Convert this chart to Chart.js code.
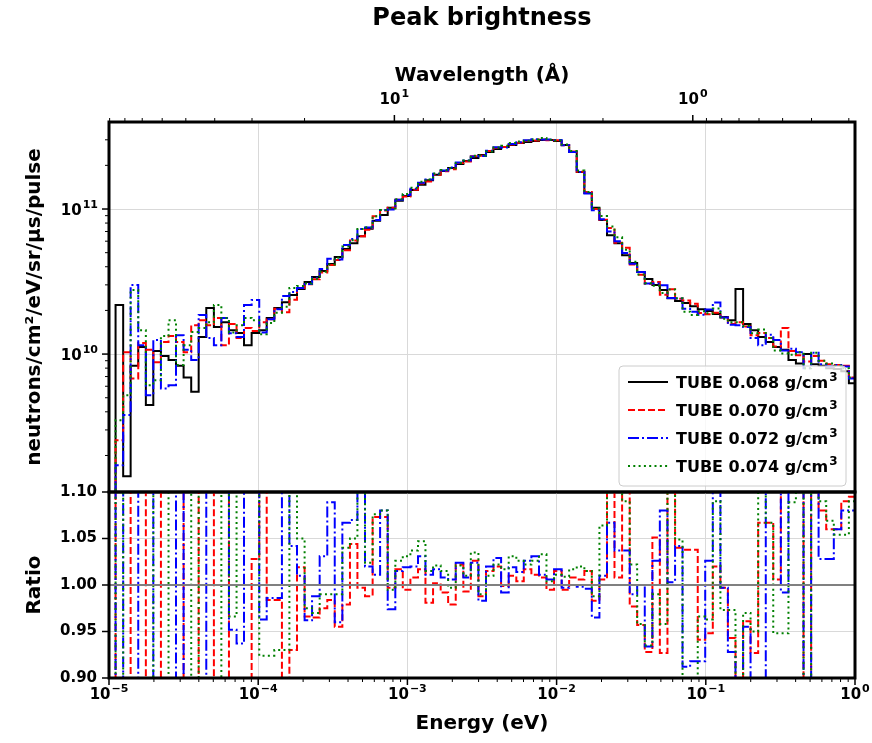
<!DOCTYPE html>
<html><head><meta charset="utf-8">
<script src="https://cdn.jsdelivr.net/npm/chart.js@4.4.1/dist/chart.umd.min.js"></script>
<style>
html,body{margin:0;padding:0;background:#fff;}
#wrap{position:relative;width:872px;height:743px;background:#fff;}
#wrap canvas{position:absolute;left:0;top:0;}
</style></head><body>
<div id="wrap"><canvas id="topChart" width="872" height="743"></canvas><canvas id="ratioChart" width="872" height="743"></canvas></div>
<script>
// ---------------- data ----------------
// log10 of energy bin edges (eV)
const binLogEdges = [
 -4.956,-4.905,-4.855,-4.804,-4.753,-4.703,-4.652,-4.601,-4.551,-4.500,
 -4.449,-4.399,-4.348,-4.297,-4.247,-4.196,-4.145,-4.095,-4.044,-3.993,
 -3.943,-3.892,-3.841,-3.791,-3.740,-3.689,-3.639,-3.588,-3.537,-3.487,
 -3.436,-3.385,-3.335,-3.284,-3.233,-3.183,-3.132,-3.081,-3.031,-2.980,
 -2.929,-2.879,-2.828,-2.777,-2.727,-2.676,-2.625,-2.575,-2.524,-2.473,
 -2.423,-2.372,-2.321,-2.270,-2.220,-2.169,-2.118,-2.068,-2.017,-1.966,
 -1.916,-1.865,-1.814,-1.764,-1.713,-1.662,-1.612,-1.561,-1.510,-1.460,
 -1.409,-1.358,-1.308,-1.257,-1.206,-1.156,-1.105,-1.054,-1.004,-0.953,
 -0.902,-0.852,-0.801,-0.750,-0.700,-0.649,-0.598,-0.548,-0.497,-0.446,
 -0.396,-0.345,-0.294,-0.244,-0.193,-0.142,-0.092,-0.041,0.010];

const seriesLabels = ['TUBE 0.068 g/cm³','TUBE 0.070 g/cm³','TUBE 0.072 g/cm³','TUBE 0.074 g/cm³'];

const flux068 = [
 2.18e10,1.44e9,8.3e9,1.12e10,4.45e9,1.05e10,9.7e9,9.1e9,8.3e9,6.9e9,
 5.5e9,1.31e10,2.08e10,1.54e10,1.66e10,1.46e10,1.40e10,1.15e10,1.40e10,1.46e10,
 1.77e10,2.08e10,2.28e10,2.55e10,2.81e10,3.14e10,3.40e10,3.74e10,4.18e10,4.67e10,
 5.30e10,5.80e10,6.50e10,7.30e10,8.30e10,9.10e10,1.02e11,1.14e11,1.23e11,1.35e11,
 1.47e11,1.58e11,1.72e11,1.83e11,1.92e11,2.04e11,2.14e11,2.25e11,2.36e11,2.47e11,
 2.59e11,2.68e11,2.76e11,2.85e11,2.90e11,2.94e11,2.99e11,2.99e11,2.94e11,2.76e11,
 2.47e11,1.80e11,1.29e11,1.02e11,8.40e10,6.60e10,5.80e10,4.80e10,4.24e10,3.68e10,
 3.29e10,2.99e10,2.76e10,2.43e10,2.32e10,2.25e10,2.14e10,2.04e10,1.98e10,1.89e10,
 1.80e10,1.71e10,2.81e10,1.61e10,1.46e10,1.31e10,1.21e10,1.12e10,1.07e10,9.1e9,
 8.6e9,1.00e10,8.5e9,8.3e9,8.0e9,7.9e9,7.6e9,6.3e9];
const flux070 = [
 2.55e9,1.03e10,6.8e9,1.19e10,1.07e10,8.8e9,1.21e10,1.33e10,1.21e10,1.03e10,
 1.58e10,1.71e10,1.58e10,1.77e10,1.15e10,1.61e10,1.29e10,1.51e10,1.44e10,1.66e10,
 1.74e10,2.05e10,1.94e10,2.37e10,2.86e10,3.03e10,3.28e10,3.65e10,4.11e10,4.46e10,
 5.19e10,6.06e10,6.48e10,7.21e10,8.91e10,9.76e10,1.02e11,1.16e11,1.22e11,1.36e11,
 1.50e11,1.55e11,1.72e11,1.82e11,1.88e11,2.08e11,2.13e11,2.31e11,2.33e11,2.51e11,
 2.64e11,2.68e11,2.79e11,2.86e11,2.95e11,2.97e11,3.01e11,2.98e11,2.98e11,2.75e11,
 2.49e11,1.81e11,1.31e11,1.00e11,8.45e10,7.40e10,5.85e10,5.40e10,4.14e10,3.52e10,
 3.05e10,3.14e10,2.56e10,2.80e10,2.41e10,2.34e10,2.22e10,1.92e10,1.88e10,1.93e10,
 1.79e10,1.61e10,1.66e10,1.55e10,1.35e10,1.40e10,1.29e10,1.13e10,1.51e10,1.05e10,
 9.8e9,8.9e9,9.7e9,9.0e9,8.5e9,8.4e9,8.3e9,6.9e9];
const flux072 = [
 1.71e9,3.8e9,2.99e10,1.15e10,5.2e9,1.25e10,5.8e9,6.1e9,1.35e10,1.07e10,
 9.1e9,1.86e10,1.29e10,1.15e10,1.77e10,1.39e10,1.31e10,2.18e10,2.36e10,1.41e10,
 1.74e10,2.04e10,2.51e10,2.68e10,2.85e10,3.04e10,3.36e10,3.86e10,4.55e10,4.48e10,
 5.66e10,6.21e10,7.28e10,7.45e10,8.39e10,9.83e10,9.93e10,1.16e11,1.25e11,1.38e11,
 1.52e11,1.60e11,1.75e11,1.84e11,1.93e11,2.09e11,2.16e11,2.30e11,2.32e11,2.52e11,
 2.67e11,2.66e11,2.81e11,2.89e11,2.98e11,3.03e11,3.02e11,3.01e11,2.99e11,2.75e11,
 2.47e11,1.80e11,1.28e11,9.80e10,8.50e10,7.00e10,6.00e10,4.98e10,4.20e10,3.68e10,
 3.07e10,3.07e10,2.98e10,2.44e10,2.42e10,2.05e10,1.96e10,1.87e10,2.03e10,2.27e10,
 1.79e10,1.59e10,1.58e10,1.54e10,1.29e10,1.15e10,1.36e10,1.25e10,1.06e10,1.09e10,
 1.03e10,8.0e9,1.02e10,8.5e9,8.2e9,8.4e9,8.2e9,6.8e9];
const flux074 = [
 3.5e9,5.2e9,2.76e10,1.46e10,6.1e9,6.6e9,1.33e10,1.71e10,8.4e9,1.15e10,
 1.42e10,1.51e10,1.66e10,2.18e10,1.77e10,1.41e10,1.58e10,1.77e10,1.71e10,1.37e10,
 1.64e10,1.93e10,2.12e10,2.86e10,2.95e10,3.06e10,3.30e10,3.70e10,4.14e10,4.62e10,
 5.51e10,6.09e10,7.28e10,7.48e10,8.93e10,9.83e10,1.01e11,1.17e11,1.27e11,1.40e11,
 1.54e11,1.60e11,1.76e11,1.86e11,1.91e11,2.08e11,2.16e11,2.33e11,2.34e11,2.49e11,
 2.65e11,2.73e11,2.85e11,2.92e11,2.96e11,3.02e11,3.09e11,3.00e11,2.97e11,2.78e11,
 2.51e11,1.84e11,1.31e11,1.01e11,8.94e10,7.59e10,6.38e10,5.23e10,4.33e10,3.53e10,
 3.08e10,2.96e10,2.64e10,2.79e10,2.43e10,1.96e10,1.86e10,1.97e10,1.91e10,2.06e10,
 1.75e10,1.66e10,1.66e10,1.56e10,1.39e10,1.48e10,1.29e10,1.06e10,1.01e10,9.9e9,
 1.03e10,8.0e9,1.02e10,9.0e9,8.6e9,8.3e9,8.0e9,6.9e9];

// ratio to TUBE 0.068 g/cm3
const ratio070 = [
 1.3,1.3,0.7,0.7,1.3,1.3,0.7,0.7,0.7,1.3,
 1.3,0.7,0.7,1.3,1.3,0.7,0.7,0.7,1.028,1.3,
 0.984,0.984,0.7,0.93,1.019,0.966,0.965,0.975,0.984,0.955,
 0.979,1.044,0.997,0.988,1.073,1.073,0.997,1.017,0.995,1.008,
 1.017,0.981,1.002,0.992,0.979,1.022,0.993,1.026,0.988,1.015,
 1.02,0.999,1.01,1.004,1.017,1.011,1.008,0.995,1.015,0.995,
 1.008,1.006,1.015,0.983,1.006,1.12,1.008,1.12,0.977,0.957,
 0.928,1.051,0.927,1.15,1.04,1.038,1.038,0.941,0.948,1.02,
 0.997,0.943,0.59,0.961,0.927,1.067,1.067,1.006,1.41,1.15,
 1.14,0.89,1.14,1.08,1.06,1.06,1.09,1.095];
const ratio072 = [
 1.3,0.7,0.7,1.3,1.3,0.7,0.7,0.7,1.3,0.7,
 0.7,0.7,1.3,1.3,1.3,0.952,0.937,1.3,1.3,0.963,
 0.986,0.986,1.3,1.042,1.01,0.962,0.988,1.031,1.089,0.96,
 1.067,1.07,1.12,1.02,1.011,1.08,0.974,1.015,1.019,1.02,
 1.031,1.011,1.017,1.008,1.006,1.024,1.008,1.024,0.983,1.02,
 1.029,0.992,1.019,1.014,1.026,1.031,1.011,1.006,1.017,0.997,
 1.0,0.998,0.996,0.965,1.01,1.067,1.037,1.037,0.99,1.0,
 0.934,1.026,1.08,1.003,1.042,0.912,0.918,0.918,1.026,1.2,
 0.997,0.928,0.56,0.955,0.88,0.88,1.12,1.12,0.992,1.2,
 1.2,0.8,1.2,1.028,1.028,1.06,1.08,1.08];
const ratio074 = [
 1.3,0.7,0.7,0.7,0.7,1.3,1.3,0.7,0.7,0.7,
 1.3,0.7,0.7,0.7,1.3,0.966,1.3,1.3,1.3,0.924,
 0.924,0.93,0.93,1.12,1.05,0.975,0.97,0.99,0.99,0.99,
 1.04,1.05,1.12,1.024,1.076,1.08,0.995,1.026,1.031,1.037,
 1.047,1.015,1.021,1.015,0.997,1.021,1.01,1.035,0.99,1.01,
 1.022,1.017,1.031,1.026,1.022,1.026,1.033,1.004,1.011,1.009,
 1.017,1.02,1.015,0.988,1.064,1.15,1.1,1.09,1.022,0.958,
 0.935,0.99,0.958,1.15,1.049,0.87,0.87,0.966,0.963,1.09,
 0.973,0.973,0.59,0.97,0.95,1.13,1.067,0.948,0.948,1.089,
 1.2,0.8,1.2,1.09,1.069,1.054,1.054,1.09];
const RATIO_REF = 1.0;

// axes / ticks
const energyDecades = [1e-5,1e-4,1e-3,1e-2,1e-1,1];
const energyExponents = ['\u22125','\u22124','\u22123','\u22122','\u22121','0'];
const minorMantissas = [2,3,4,5,6,7,8,9];
const fluxMajorTicks = [1e10,1e11];
const fluxExponents = ['10','11'];
const fluxMinorTicks = [2e9,3e9,4e9,5e9,6e9,7e9,8e9,9e9,2e10,3e10,4e10,5e10,6e10,7e10,8e10,9e10,2e11,3e11];
const ratioTicks = [0.90,0.95,1.00,1.05,1.10];
const wavelengthMajor = [10,1];
const wavelengthExponents = ['1','0'];
const wavelengthMinor = [90,80,70,60,50,40,30,20,9,8,7,6,5,4,3,2,0.9,0.8,0.7,0.6,0.5,0.4,0.3];
const EV_ANGSTROM2 = 0.081804; // E[eV] = EV_ANGSTROM2 / lambda[Å]^2

// ---------------- helpers ----------------
const FONT = 'DejaVu Sans';
Chart.defaults.font.family = FONT;
Chart.defaults.color = '#000';
const tickFont = {family: FONT, size: 15, weight: 'bold'};
const axisTitleFont = {family: FONT, size: 20, weight: 'bold'};
const yTitleFont = {family: FONT, size: 20, weight: 'bold'};
const GRID = '#d9d9d9';
const styles = [
  {color:'#000000', dash:[]},
  {color:'#ff0000', dash:[7,3]},
  {color:'#0000ff', dash:[11,3,2,3]},
  {color:'#008000', dash:[2,3.3]}
];
const binEdges = binLogEdges.map(e => Math.pow(10, e));
const toEnergy = l => EV_ANGSTROM2 / (l * l);
const energyMinorTicks = energyDecades.slice(0, -1).flatMap(d => minorMantissas.map(m => m * d));

function histogramPoints(values, floor) {
  const pts = [{x: binEdges[0], y: floor}];
  values.forEach((v, i) => pts.push({x: binEdges[i], y: v}));
  pts.push({x: binEdges[values.length], y: values[values.length - 1]});
  return pts;
}

const frameTicks = {
  id: 'frameTicks',
  afterDraw(chart, args, opts) {
    const {ctx, chartArea: a} = chart;
    ctx.save();
    ctx.strokeStyle = '#000';
    (opts.marks || []).forEach(m => {
      const s = chart.scales[m.scale];
      ctx.lineWidth = m.width;
      m.values.forEach(v => {
        const p = s.getPixelForValue(v);
        ctx.beginPath();
        if (m.side === 'left') { ctx.moveTo(a.left - m.len, p); ctx.lineTo(a.left, p); }
        else if (m.side === 'bottom') { ctx.moveTo(p, a.bottom); ctx.lineTo(p, a.bottom + m.len); }
        else { ctx.moveTo(p, a.top - m.len); ctx.lineTo(p, a.top); }
        ctx.stroke();
      });
    });
    ctx.lineWidth = 3;
    ctx.strokeRect(a.left, a.top, a.right - a.left, a.bottom - a.top);
    // power-of-ten tick labels with real superscripts
    (opts.powers || []).forEach(set => {
      const s = chart.scales[set.scale];
      set.values.forEach((v, i) => {
        const p = s.getPixelForValue(v);
        const exp = set.exps[i];
        const baseFont = 'bold 15px "' + FONT + '"', expFont = 'bold 11px "' + FONT + '"';
        ctx.font = baseFont; const wb = ctx.measureText('10').width;
        ctx.font = expFont; const we = ctx.measureText(exp).width;
        const total = wb + 1 + we;
        let x, yb;
        if (set.side === 'bottom') { x = p - total / 2; yb = a.bottom + 21; }
        else if (set.side === 'top') { x = p - total / 2; yb = a.top - 18; }
        else { x = a.left - 11 - total; yb = p + 6; }
        ctx.fillStyle = '#000'; ctx.textBaseline = 'alphabetic'; ctx.textAlign = 'left';
        ctx.font = baseFont; ctx.fillText('10', x, yb);
        ctx.font = expFont; ctx.fillText(exp, x + wb + 1, yb - 7);
      });
    });
    ctx.restore();
  }
};

const boxLegend = {
  id: 'boxLegend',
  afterDraw(chart, args, opts) {
    if (!opts.display) return;
    const {ctx, chartArea: a} = chart;
    const w = 227, h = 120;
    const x0 = a.right - 9 - w, y0 = a.bottom - 6 - h;
    ctx.save();
    ctx.beginPath();
    ctx.roundRect(x0, y0, w, h, 4);
    ctx.fillStyle = 'rgba(255,255,255,0.8)';
    ctx.fill();
    ctx.strokeStyle = '#cccccc';
    ctx.lineWidth = 1;
    ctx.stroke();
    chart.data.datasets.forEach((ds, i) => {
      const y = y0 + 16 + i * 28;
      ctx.beginPath();
      ctx.setLineDash(ds.borderDash || []);
      ctx.strokeStyle = ds.borderColor;
      ctx.lineWidth = ds.borderWidth;
      ctx.moveTo(x0 + 9, y); ctx.lineTo(x0 + 49, y);
      ctx.stroke();
      ctx.setLineDash([]);
      ctx.fillStyle = '#000';
      ctx.textBaseline = 'alphabetic';
      ctx.textAlign = 'left';
      let text = ds.label, sup = '';
      if (text.endsWith('³')) { text = text.slice(0, -1); sup = '3'; }
      ctx.font = 'bold 16px "' + FONT + '"';
      ctx.fillText(text, x0 + 57, y + 6);
      const tw = ctx.measureText(text).width;
      if (sup) {
        ctx.font = 'bold 12px "' + FONT + '"';
        ctx.fillText(sup, x0 + 57 + tw + 1, y - 1);
      }
    });
    ctx.restore();
  }
};

const common = {responsive: false, animation: false, devicePixelRatio: 1, events: []};

// ---------------- top panel ----------------
const fluxSeries = [flux068, flux070, flux072, flux074];
new Chart(document.getElementById('topChart'), {
  type: 'line',
  data: {datasets: fluxSeries.map((vals, i) => ({
    label: seriesLabels[i], data: histogramPoints(vals, 1e8),
    xAxisID: 'x', yAxisID: 'y',
    borderColor: styles[i].color, borderDash: styles[i].dash, borderWidth: 2,
    stepped: true, pointRadius: 0, fill: false, order: 4 - i
  }))},
  options: Object.assign({}, common, {
    layout: {padding: {left: 0, right: 17, top: 0, bottom: 251}},
    plugins: {
      legend: {display: false}, tooltip: {enabled: false},
      title: {display: true, fullSize: false, text: 'Peak brightness', color: '#000',
              font: {family: FONT, size: 24, weight: 'bold'}, padding: {top: 4, bottom: 3.6}},
      boxLegend: {display: true},
      frameTicks: {
        marks: [
          {scale: 'y', side: 'left', values: fluxMajorTicks, len: 7, width: 1.5},
          {scale: 'y', side: 'left', values: fluxMinorTicks, len: 4, width: 1},
          {scale: 'x2', side: 'top', values: wavelengthMajor.map(toEnergy), len: 7, width: 1.5},
          {scale: 'x2', side: 'top', values: wavelengthMinor.map(toEnergy), len: 4, width: 1}
        ],
        powers: [
          {scale: 'y', side: 'left', values: fluxMajorTicks, exps: fluxExponents},
          {scale: 'x2', side: 'top', values: wavelengthMajor.map(toEnergy), exps: wavelengthExponents}
        ]
      }
    },
    scales: {
      x: {type: 'logarithmic', position: 'bottom', min: 1e-5, max: 1,
          afterBuildTicks: s => { s.ticks = energyDecades.map(v => ({value: v})); },
          ticks: {display: false},
          grid: {color: GRID, lineWidth: 1, drawTicks: false},
          border: {display: false},
          afterFit: s => { s.height = 0; }},
      x2: {type: 'logarithmic', position: 'top', min: 1e-5, max: 1,
          afterBuildTicks: s => { s.ticks = wavelengthMajor.map(l => ({value: toEnergy(l)})); },
          ticks: {display: false},
          grid: {display: false, drawTicks: false},
          border: {display: false},
          title: {display: true, text: 'Wavelength (Å)', font: axisTitleFont, color: '#000', padding: {top: 27.6, bottom: 0}},
          afterFit: s => { s.height = 85.6; }},
      y: {type: 'logarithmic', position: 'left', min: 1.12e9, max: 3.98e11,
          afterBuildTicks: s => { s.ticks = fluxMajorTicks.map(v => ({value: v})); },
          ticks: {display: false},
          grid: {color: GRID, lineWidth: 1, drawTicks: false},
          border: {display: false},
          title: {display: true, text: 'neutrons/cm²/eV/sr/μs/pulse', font: yTitleFont, color: '#000', padding: {top: 23, bottom: 0}},
          afterFit: s => { s.width = 109; }}
    }
  }),
  plugins: [frameTicks, boxLegend]
});

// ---------------- ratio panel ----------------
const ratioSeries = [ratio070, ratio072, ratio074];
new Chart(document.getElementById('ratioChart'), {
  type: 'line',
  data: {datasets: [
    {label: 'reference', data: [{x: 1e-5, y: RATIO_REF}, {x: 1, y: RATIO_REF}],
     borderColor: '#808080', borderWidth: 2, pointRadius: 0, fill: false, order: 0},
    ...ratioSeries.map((vals, j) => ({
      label: seriesLabels[j + 1], data: histogramPoints(vals, 0.5),
      borderColor: styles[j + 1].color, borderDash: styles[j + 1].dash, borderWidth: 2,
      stepped: true, pointRadius: 0, fill: false, order: 3 - j
    }))
  ]},
  options: Object.assign({}, common, {
    layout: {padding: {left: 0, right: 17, top: 492, bottom: 0}},
    plugins: {
      legend: {display: false}, tooltip: {enabled: false},
      frameTicks: {
        marks: [
          {scale: 'x', side: 'bottom', values: energyDecades, len: 7, width: 1.5},
          {scale: 'x', side: 'bottom', values: energyMinorTicks, len: 4, width: 1},
          {scale: 'y', side: 'left', values: ratioTicks, len: 7, width: 1.5}
        ],
        powers: [
          {scale: 'x', side: 'bottom', values: energyDecades, exps: energyExponents}
        ]
      }
    },
    scales: {
      x: {type: 'logarithmic', position: 'bottom', min: 1e-5, max: 1,
          afterBuildTicks: s => { s.ticks = energyDecades.map(v => ({value: v})); },
          ticks: {display: false},
          grid: {color: GRID, lineWidth: 1, drawTicks: false},
          border: {display: false},
          title: {display: true, text: 'Energy (eV)', font: axisTitleFont, color: '#000', padding: {top: 0, bottom: 7}},
          afterFit: s => { s.height = 65; }},
      y: {type: 'linear', position: 'left', min: 0.9, max: 1.1,
          afterBuildTicks: s => { s.ticks = ratioTicks.map(v => ({value: v})); },
          ticks: {callback: (v, i) => ratioTicks[i].toFixed(2), font: tickFont, color: '#000', padding: 12, autoSkip: false},
          grid: {color: GRID, lineWidth: 1, drawTicks: false},
          border: {display: false},
          title: {display: true, text: 'Ratio', font: yTitleFont, color: '#000', padding: {top: 23, bottom: 0}},
          afterFit: s => { s.width = 109; }}
    }
  }),
  plugins: [frameTicks]
});
</script>
</body></html>
